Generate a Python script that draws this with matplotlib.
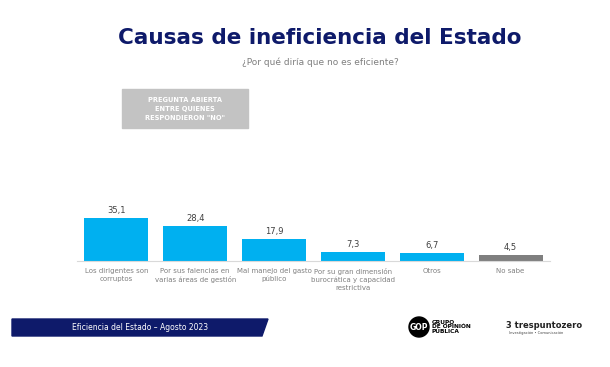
import matplotlib.pyplot as plt
from matplotlib.patches import Polygon, Rectangle, Circle

categories = ['Los dirigentes son\ncorruptos',
              'Por sus falencias en\nvarias áreas de gestión',
              'Mal manejo del gasto\npúblico',
              'Por su gran dimensión\nburocrática y capacidad\nrestrictiva',
              'Otros',
              'No sabe']
values = [35.1, 28.4, 17.9, 7.3, 6.7, 4.5]
value_labels = ['35,1', '28,4', '17,9', '7,3', '6,7', '4,5']
bar_colors = ['#00b0f0'] * 5 + ['#7f7f7f']

title = 'Causas de ineficiencia del Estado'
subtitle = '¿Por qué diría que no es eficiente?'
note = 'PREGUNTA ABIERTA\nENTRE QUIENES\nRESPONDIERON "NO"'
footer = 'Eficiencia del Estado – Agosto 2023'

W, H = 610, 367
fig = plt.figure(figsize=(W / 100, H / 100), dpi=100)
fig.patch.set_facecolor('white')

# main bar chart
ax = fig.add_axes([77 / W, 1 - 261 / H, 473 / W, 61 / H])
x = range(len(categories))
ax.bar(x, values, width=0.81, color=bar_colors)
ax.set_xlim(-0.5, len(categories) - 0.5)
ax.set_ylim(0, 61 / 1.225)
for xi, v, lab in zip(x, values, value_labels):
    ax.text(xi, v + 2.5, lab, ha='center', va='bottom', fontsize=6, color='#404040')
ax.set_xticks(list(x))
ax.set_xticklabels(categories, fontsize=5, color='#808080', linespacing=1.35)
ax.tick_params(axis='x', length=0, pad=5)
ax.set_yticks([])
for s in ['top', 'right', 'left']:
    ax.spines[s].set_visible(False)
ax.spines['bottom'].set_color('#d9d9d9')
ax.spines['bottom'].set_linewidth(0.8)

# titles
fig.text(320 / W, 1 - 38 / H, title, ha='center', va='center',
         fontsize=15.5, fontweight='bold', color='#0e1a6a')
fig.text(320 / W, 1 - 62 / H, subtitle, ha='center', va='center',
         fontsize=6.5, color='#7f7f7f')

# overlay axes for decorations in pixel coords
deco = fig.add_axes([0, 0, 1, 1], zorder=-1)
deco.set_xlim(0, W)
deco.set_ylim(H, 0)
deco.axis('off')

deco.add_patch(Rectangle((122, 89), 126, 39, color='#c3c3c3'))
deco.text(185, 108.5, note, ha='center', va='center', fontsize=4.8,
          color='white', fontweight='bold', linespacing=1.6)

deco.add_patch(Polygon([(12, 319), (268, 319), (262, 336), (12, 336)],
                       closed=True, color='#0e1a6a'))
deco.text(140, 327.5, footer, ha='center', va='center', fontsize=5.5,
          color='white')

# logos approximated with text
deco.add_patch(Circle((419, 327), 10, color='black'))
deco.text(419, 327.5, 'GOP', ha='center', va='center', fontsize=5.5,
          color='white', fontweight='bold')
deco.text(432, 327, 'GRUPO\nDE OPINIÓN\nPÚBLICA', ha='left', va='center',
          fontsize=4.2, color='black', fontweight='bold', linespacing=0.9)
deco.text(506, 325, '3 trespuntozero', ha='left', va='center',
          fontsize=6, color='#222222', fontweight='bold')
deco.text(536, 333, 'Investigación • Comunicación', ha='center', va='center',
          fontsize=2.6, color='#444444')

fig.savefig('out.png', dpi=100)
